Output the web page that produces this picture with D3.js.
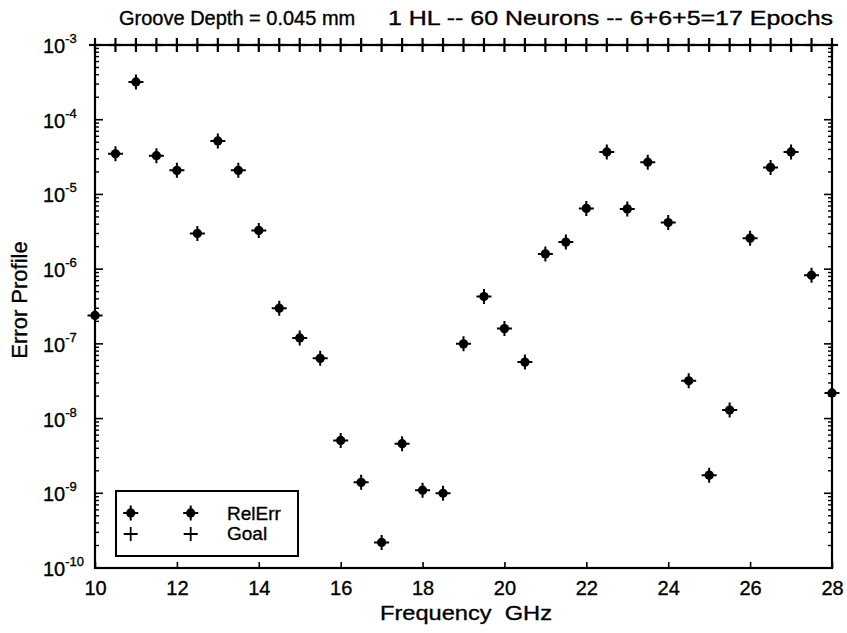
<!DOCTYPE html>
<html>
<head>
<meta charset="utf-8">
<script src="https://cdn.jsdelivr.net/npm/d3@7"></script>
<style>
  html, body { margin: 0; padding: 0; background: #fff; }
  svg { display: block; font-family: "Liberation Sans", Arial, Helvetica, sans-serif; }
  svg text { stroke: #000; stroke-width: 0.35px; }
</style>
</head>
<body>
<svg id="chart" width="847" height="633"></svg>
<script>
// Frequency samples (GHz)
const frequency = [10, 10.5, 11, 11.5, 12, 12.5, 13, 13.5, 14, 14.5, 15, 15.5, 16, 16.5,
  17, 17.5, 18, 18.5, 19, 19.5, 20, 20.5, 21, 21.5, 22, 22.5, 23, 23.5, 24, 24.5,
  25, 25.5, 26, 26.5, 27, 27.5, 28];

// Relative error of the network at each frequency
const relErr = [2.4e-7, 3.5e-5, 3.2e-4, 3.3e-5, 2.1e-5, 3.0e-6, 5.2e-5, 2.1e-5, 3.3e-6, 3.0e-7,
  1.2e-7, 6.4e-8, 5.1e-9, 1.4e-9, 2.2e-10, 4.6e-9, 1.1e-9, 1.0e-9, 1.0e-7, 4.3e-7,
  1.6e-7, 5.7e-8, 1.6e-6, 2.3e-6, 6.5e-6, 3.7e-5, 6.4e-6, 2.7e-5, 4.2e-6, 3.2e-8,
  1.75e-9, 1.3e-8, 2.6e-6, 2.3e-5, 3.7e-5, 8.3e-7, 2.2e-8];

// Training goal at each frequency
const goal = [1e-3, 1e-3, 1e-3, 1e-3, 1e-3, 1e-3, 1e-3, 1e-3, 1e-3, 1e-3, 1e-3, 1e-3, 1e-3,
  1e-3, 1e-3, 1e-3, 1e-3, 1e-3, 1e-3, 1e-3, 1e-3, 1e-3, 1e-3, 1e-3, 1e-3, 1e-3, 1e-3,
  1e-3, 1e-3, 1e-3, 1e-3, 1e-3, 1e-3, 1e-3, 1e-3, 1e-3, 1e-3];

// Axis ticks
const xTicks = [10, 12, 14, 16, 18, 20, 22, 24, 26, 28];
const yExponents = [-10, -9, -8, -7, -6, -5, -4, -3];

const titleLeft = "Groove Depth = 0.045 mm";
const titleRight = "1 HL -- 60 Neurons -- 6+6+5=17 Epochs";
const xLabel = "Frequency  GHz";
const yLabel = "Error Profile";
const legendNames = ["RelErr", "Goal"];

const svg = d3.select("#chart");
const plot = { left: 95, right: 832, top: 45, bottom: 568 };

const x = d3.scaleLinear().domain([10, 28]).range([plot.left, plot.right]);
const y = d3.scaleLog().domain([1e-10, 1e-3]).range([plot.bottom, plot.top]);

const ink = "#000";

// Log minor ticks (2..9 within each decade)
const minor = [];
for (let i = 0; i < yExponents.length - 1; i++) {
  const base = Math.pow(10, yExponents[i]);
  for (let m = 2; m <= 9; m++) minor.push(base * m);
}

// Left and right y axes with inward ticks
const majorVals = yExponents.map(e => Math.pow(10, e));
function yAxis(side) {
  const g = svg.append("g");
  const xPos = side === "left" ? plot.left : plot.right;
  const dir = side === "left" ? 1 : -1;
  g.selectAll("line.major").data(majorVals).join("line")
    .attr("x1", xPos).attr("x2", xPos + dir * 8)
    .attr("y1", d => y(d)).attr("y2", d => y(d))
    .attr("stroke", ink).attr("stroke-width", 1.6);
  g.selectAll("line.minor").data(minor).join("line")
    .attr("x1", xPos).attr("x2", xPos + dir * 4)
    .attr("y1", d => y(d)).attr("y2", d => y(d))
    .attr("stroke", ink).attr("stroke-width", 1.4);
}
yAxis("left");
yAxis("right");

// Bottom axis ticks pointing inward
const xAxis = d3.axisBottom(x).tickValues(xTicks).tickSize(-6).tickPadding(13).tickFormat(d3.format("d"));
const gx = svg.append("g").attr("transform", `translate(0,${plot.bottom})`).call(xAxis);
gx.select(".domain").remove();
gx.selectAll(".tick line").attr("stroke", ink).attr("stroke-width", 1.6);
gx.selectAll(".tick text").attr("fill", ink).attr("font-size", 20)
  .attr("font-family", "Liberation Sans, Arial, sans-serif");

// Frame
svg.append("rect")
  .attr("x", plot.left).attr("y", plot.top)
  .attr("width", plot.right - plot.left).attr("height", plot.bottom - plot.top)
  .attr("fill", "none").attr("stroke", ink).attr("stroke-width", 2.2);

// Y tick labels as 10 with superscript exponent
const ylab = svg.append("g").selectAll("text").data(yExponents).join("text")
  .attr("x", 43).attr("y", d => y(Math.pow(10, d)) + 8)
  .attr("font-size", 20).attr("fill", ink);
ylab.append("tspan").text("10");
ylab.append("tspan").attr("dy", -10).attr("font-size", 13).text(d => "-" + Math.abs(d));

// Marker paths
const plusPath = r => `M${-r},0H${r}M0,${-r}V${r}`;
function starMarker(sel, r) {
  sel.append("circle").attr("r", r * 0.62).attr("fill", ink);
  sel.append("path").attr("d", plusPath(r)).attr("stroke", ink).attr("stroke-width", 2).attr("fill", "none");
}

// Goal markers ('+') along the goal level
const goalData = frequency.map((f, i) => ({ f, v: goal[i] }));
const goalLayer = svg.append("g").attr("class", "goal");
goalLayer.selectAll("line.gv").data(goalData).join("line")
  .attr("x1", d => x(d.f)).attr("x2", d => x(d.f))
  .attr("y1", d => y(d.v) - 7).attr("y2", d => y(d.v) + 7)
  .attr("stroke", ink).attr("stroke-width", 2.2);
goalLayer.selectAll("line.gh").data(goalData).join("line")
  .attr("x1", d => x(d.f) - 6).attr("x2", d => x(d.f) + 6)
  .attr("y1", d => y(d.v)).attr("y2", d => y(d.v))
  .attr("stroke", ink).attr("stroke-width", 2.2);

// Relative error markers
const errData = frequency.map((f, i) => ({ f, v: relErr[i] }));
svg.append("g").attr("class", "relerr").selectAll("g").data(errData).join("g")
  .attr("transform", d => `translate(${x(d.f)},${y(d.v)})`)
  .each(function () { starMarker(d3.select(this), 7.5); });

// Legend
const lg = svg.append("g");
lg.append("rect").attr("x", 116).attr("y", 491).attr("width", 182).attr("height", 65)
  .attr("fill", "#fff").attr("stroke", ink).attr("stroke-width", 2);
[130.7, 190.7].forEach(px => {
  lg.append("g").attr("transform", `translate(${px},513)`).call(s => starMarker(s, 7.5));
  lg.append("path").attr("d", `M${px - 7},534h14M${px},527v14`)
    .attr("stroke", ink).attr("stroke-width", 1.8).attr("fill", "none");
});
lg.selectAll("text").data(legendNames).join("text")
  .attr("x", 227).attr("y", (d, i) => 520 + i * 20)
  .attr("font-size", 19).attr("fill", ink).text(d => d);

// Title in two parts
svg.append("text").attr("x", 119).attr("y", 25).attr("font-size", 20).attr("fill", ink)
  .text(titleLeft);
svg.append("text").attr("x", 388).attr("y", 25).attr("font-size", 20).attr("fill", ink)
  .attr("textLength", 445).attr("lengthAdjust", "spacingAndGlyphs").text(titleRight);

// Axis labels
svg.append("text").attr("x", 380).attr("y", 620)
  .attr("font-size", 20.5).attr("fill", ink)
  .attr("textLength", 172).attr("lengthAdjust", "spacingAndGlyphs")
  .attr("xml:space", "preserve").text(xLabel);

svg.append("text").attr("transform", "translate(27,300) rotate(-90)").attr("text-anchor", "middle")
  .attr("font-size", 22).attr("fill", ink).text(yLabel);
</script>
</body>
</html>
